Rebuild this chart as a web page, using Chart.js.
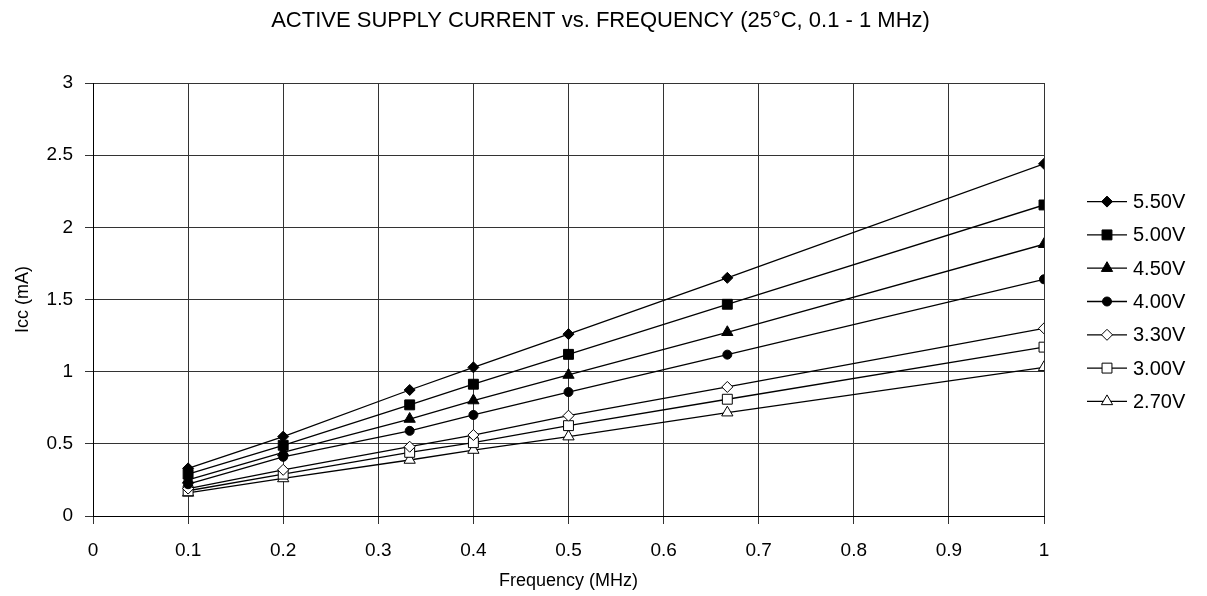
<!DOCTYPE html>
<html>
<head>
<meta charset="utf-8">
<script src="https://cdn.jsdelivr.net/npm/chart.js@4.4.0/dist/chart.umd.min.js"></script>
<style>
    html, body { margin: 0; padding: 0; background: #fff; }
    #wrap { width: 1207px; height: 596px; position: relative; }
</style>
</head>
<body>
<div id="wrap"><canvas id="iccChart"></canvas></div>
<script>
// DATA
const chartTitle = "ACTIVE SUPPLY CURRENT vs. FREQUENCY (25°C, 0.1 - 1 MHz)";
const freqMHz = [0.1, 0.2, 0.333, 0.4, 0.5, 0.667, 1.0];
const seriesNames = ["5.50V", "5.00V", "4.50V", "4.00V", "3.30V", "3.00V", "2.70V"];

const icc550 = [0.33, 0.55, 0.873, 1.03, 1.26, 1.65, 2.44];
const icc500 = [0.29, 0.49, 0.77, 0.913, 1.12, 1.467, 2.155];
const icc450 = [0.25, 0.44, 0.672, 0.80, 0.977, 1.273, 1.883];
const icc400 = [0.22, 0.41, 0.59, 0.70, 0.859, 1.118, 1.64];
const icc330 = [0.19, 0.32, 0.48, 0.561, 0.695, 0.894, 1.30];
const icc300 = [0.175, 0.29, 0.441, 0.508, 0.626, 0.809, 1.17];
const icc270 = [0.16, 0.26, 0.388, 0.457, 0.55, 0.716, 1.03];

const xTickValues = [0, 0.1, 0.2, 0.3, 0.4, 0.5, 0.6, 0.7, 0.8, 0.9, 1];
const yTickValues = [0, 0.5, 1, 1.5, 2, 2.5, 3];

// STYLES
const allSeries = [icc550, icc500, icc450, icc400, icc330, icc300, icc270];
const markerShapes = ["rectRot", "rect", "triangle", "circle", "rectRot", "rect", "triangle"];
const markerFilled = [true, true, true, true, false, false, false];
const markerSize = { rectRot: 5.5, rect: 7, triangle: 6.5, circle: 4.5 };

const FONT = "'Liberation Sans', Arial, sans-serif";
Chart.defaults.font.family = FONT;
Chart.defaults.color = "#000";

const datasets = allSeries.map((vals, i) => ({
    label: seriesNames[i],
    data: vals.map((v, j) => ({ x: freqMHz[j], y: v })),
    borderColor: "#000",
    borderWidth: 1.3,
    backgroundColor: markerFilled[i] ? "#000" : "#fff",
    pointStyle: markerShapes[i],
    pointRadius: markerSize[markerShapes[i]],
    pointHoverRadius: markerSize[markerShapes[i]],
    pointBackgroundColor: markerFilled[i] ? "#000" : "#fff",
    pointBorderColor: "#000",
    pointBorderWidth: 1,
    tension: 0,
    fill: false
}));

// MARKER for the legend
function drawMarker(c, shape, x, y, r, filled) {
    c.beginPath();
    if (shape === "circle") {
        c.arc(x, y, r, 0, Math.PI * 2);
    } else if (shape === "rect") {
        const s = Math.SQRT1_2 * r;
        c.rect(x - s, y - s, 2 * s, 2 * s);
    } else if (shape === "rectRot") {
        c.moveTo(x, y - r); c.lineTo(x + r, y); c.lineTo(x, y + r); c.lineTo(x - r, y);
        c.closePath();
    } else if (shape === "triangle") {
        c.moveTo(x, y - r);
        c.lineTo(x + r * Math.sin(Math.PI / 3), y + r / 2);
        c.lineTo(x - r * Math.sin(Math.PI / 3), y + r / 2);
        c.closePath();
    }
    c.fillStyle = filled ? "#000" : "#fff";
    c.fill();
    c.lineWidth = 1;
    c.strokeStyle = "#000";
    c.stroke();
}

// title centred on the whole canvas, legend at the right (line + marker)
const sheetDecor = {
    id: "sheetDecor",
    afterDraw(chart) {
        const c = chart.ctx;
        const area = chart.chartArea;
        c.save();

        c.fillStyle = "#000";
        c.font = "22px " + FONT;
        c.textAlign = "center";
        c.textBaseline = "middle";
        c.fillText(chartTitle, chart.width / 2 - 3, 21);

        const rowH = 33.3;
        const mid = (area.top + area.bottom) / 2 + 2;
        const y0 = mid - rowH * (seriesNames.length - 1) / 2;
        const x0 = area.right + 43;
        seriesNames.forEach((name, i) => {
            const y = y0 + i * rowH;
            c.beginPath();
            c.moveTo(x0, y);
            c.lineTo(x0 + 40, y);
            c.lineWidth = 1.3;
            c.strokeStyle = "#000";
            c.stroke();
            drawMarker(c, markerShapes[i], x0 + 20, y, markerSize[markerShapes[i]], markerFilled[i]);
            c.fillStyle = "#000";
            c.font = "20px " + FONT;
            c.textAlign = "left";
            c.textBaseline = "middle";
            c.fillText(name, x0 + 46, y + 1);
        });
        c.restore();
    }
};

const ctx = document.getElementById("iccChart");

new Chart(ctx, {
    type: "line",
    data: { datasets: datasets },
    plugins: [sheetDecor],
    options: {
        responsive: true,
        maintainAspectRatio: false,
        animation: false,
        layout: { padding: { left: 0, right: 163, top: 83, bottom: 0 } },
        plugins: {
            legend: { display: false },
            tooltip: { enabled: false },
            title: { display: false }
        },
        scales: {
            x: {
                type: "linear",
                min: 0,
                max: 1,
                afterBuildTicks: (scale) => { scale.ticks = xTickValues.map(v => ({ value: v })); },
                afterFit: (scale) => { scale.height = 80; },
                ticks: {
                    font: { size: 19 },
                    color: "#000",
                    padding: 15,
                    maxRotation: 0,
                    callback: (v) => String(Math.round(v * 10) / 10)
                },
                grid: { color: "#333", lineWidth: 1, tickLength: 8, tickColor: "#333" },
                border: { color: "#000", width: 1 },
                title: {
                    display: true,
                    text: "Frequency (MHz)",
                    font: { size: 18 },
                    color: "#000",
                    padding: { top: 0, bottom: 4 }
                }
            },
            y: {
                min: 0,
                max: 3,
                afterBuildTicks: (scale) => { scale.ticks = yTickValues.map(v => ({ value: v })); },
                afterFit: (scale) => { scale.width = 93; },
                ticks: {
                    font: { size: 19 },
                    color: "#000",
                    padding: 12,
                    callback: (v) => String(v)
                },
                grid: { color: "#333", lineWidth: 1, tickLength: 8, tickColor: "#333" },
                border: { color: "#000", width: 1 },
                title: {
                    display: true,
                    text: "Icc (mA)",
                    font: { size: 18 },
                    color: "#000",
                    padding: { top: 12, bottom: 0 }
                }
            }
        }
    }
});
</script>
</body>
</html>
